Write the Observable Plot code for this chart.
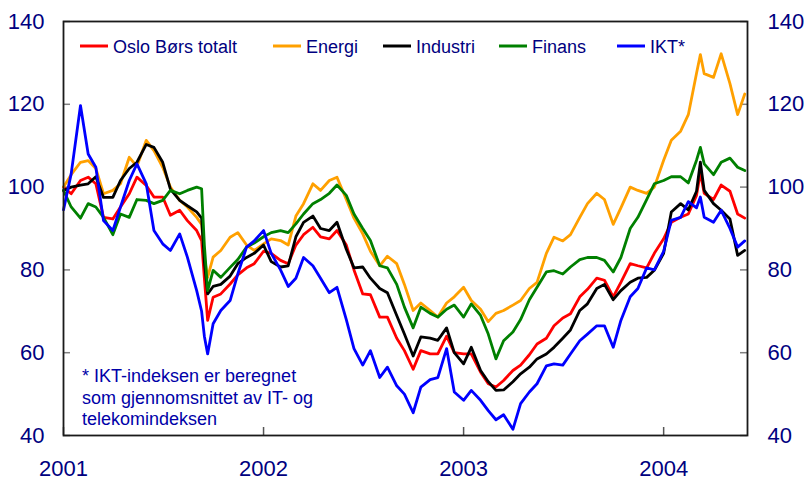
<!DOCTYPE html>
<html><head><meta charset="utf-8">
<script src="https://cdn.jsdelivr.net/npm/d3@7"></script>
<script src="https://cdn.jsdelivr.net/npm/@observablehq/plot@0.6"></script>
<style>body{margin:0;background:#fff;}</style>
</head><body><div id="chart"></div>
<script>
const dates = ["2001-01-01","2001-01-15","2001-02-01","2001-02-15","2001-03-01","2001-03-15","2001-04-01","2001-04-15","2001-05-01","2001-05-15","2001-06-01","2001-06-15","2001-07-01","2001-07-15","2001-08-01","2001-08-15","2001-09-01","2001-09-10","2001-09-15","2001-09-21","2001-10-01","2001-10-15","2001-11-01","2001-11-15","2001-12-01","2001-12-15",
"2002-01-01","2002-01-15","2002-02-01","2002-02-15","2002-03-01","2002-03-15","2002-04-01","2002-04-15","2002-05-01","2002-05-15","2002-06-01","2002-06-15","2002-07-01","2002-07-15","2002-08-01","2002-08-15","2002-09-01","2002-09-15","2002-10-01","2002-10-15","2002-11-01","2002-11-15","2002-12-01","2002-12-15",
"2003-01-01","2003-01-15","2003-02-01","2003-02-15","2003-03-01","2003-03-15","2003-04-01","2003-04-15","2003-05-01","2003-05-15","2003-06-01","2003-06-15","2003-07-01","2003-07-15","2003-08-01","2003-08-15","2003-09-01","2003-09-15","2003-10-01","2003-10-15","2003-11-01","2003-11-15","2003-12-01","2003-12-15",
"2004-01-01","2004-01-15","2004-02-01","2004-02-15","2004-03-01","2004-03-08","2004-03-15","2004-04-01","2004-04-15","2004-05-01","2004-05-15","2004-05-28"];

const osloBors = [100,98.4,101.6,102.4,100.8,92.7,92.3,95.2,98.4,102.4,100.4,97.6,97.6,93.2,94.4,91.9,89.5,87.1,78,67.8,73.4,74.2,76.6,78.8,80.5,81.5,
84.5,84,82.3,81.5,86,88.5,90.3,88,87.5,89.5,86,80,74.2,74,68.6,68.6,63.5,60.5,56,60.5,59.7,59.7,64,60,
59.7,59.7,55.3,52.5,51.7,53.3,55.7,57,59.5,62.1,63.5,66.5,68.4,69.4,73.5,75.3,78,77.5,73.5,77,81.5,81,80.5,84,
87.5,91.5,92.7,93.5,98,103.5,98.5,97,100.5,99,93.5,92.5];

const energi = [100,103,106,106.4,104.5,98.4,99.2,100.8,107.2,105,111.3,108.8,104.8,100,96.8,95.2,92.7,91,83,78.2,83.1,84.7,87.9,89,86,84.7,
86.3,87.5,87.1,86,93,96,100.8,99.2,101.6,102.4,97,92.5,88.7,84.5,81,83.3,81.5,76.5,70.2,72,70.2,68.6,72,73.5,
75.8,72.6,70.5,67.5,69.5,70.2,71.5,72.6,75.5,77,84,87.9,87,88.5,92.7,96,98.5,97,91,95,100,99.2,98.5,100,
106.5,111.3,113.5,117.5,127.5,132,127.4,126.5,132.2,125,117.5,122.5];

const industri = [99.2,100,100.5,100.8,102.5,97.5,97.5,101.6,104.5,106,110.3,109.6,106,99.5,96.8,95.5,94,92.5,82,74.2,76,76.5,78.5,81.5,83,84,
86,82,80.7,81,88,91.5,93,90,89.5,91.5,85,80.5,80.7,78,75.5,74.5,69,64.5,59.2,63.8,63.5,63,66,60,
57.3,61.3,55.7,53,50.9,51,53,54.9,56.5,58.5,59.7,61.3,63.5,65.5,70.2,71.8,75.5,76.5,72.8,75,77,78,78.2,79.9,
84,94,96,94.5,99,106,99.2,96,94.4,92.3,83.5,84.7];

const finans = [99.2,95.2,92.5,96,95.2,92.7,88.5,93.5,92.7,97,96.8,96,96.8,99.2,98.4,99.2,100,99.6,86,75,79.9,78.2,80.6,82.5,85.5,86.5,
88,89,89.5,89,91.1,93.5,96,97,98.5,100.5,98,93.5,90,87.1,81,80.5,76.5,71,66,71,69.5,68.6,70.5,71.5,
68.6,71.8,69,64.5,58.5,62.9,65,68,72.8,75.8,79.5,79.8,79,80.7,82.5,83,83,82.3,79.5,83,90,92.7,97,100.8,
101.6,102.5,102.5,101,106.5,109.6,105.6,103,106,107,104.8,104];

const ikt = [94.5,103.2,119.7,108,104.8,91.9,89.5,95.2,101.6,105.6,100.8,89.5,86.3,84.7,88.7,83.1,75,70,64,59.7,67,70.2,72.6,79,85.5,87,
89.5,84,80,76,78,83,81,78,74.5,75.8,68,61,57,60.5,54,56.5,52,50,45.5,51.7,53.5,54,61,50.5,
48.5,50.9,48.5,46,43.8,45,41.5,47.7,50.5,52.5,56.8,57.3,57,59.7,62.9,64.5,66.5,66.5,61.3,67.8,73.5,75.5,80.5,80,
84.5,92,92.7,96.5,95,97.6,92.7,91.5,94.4,90,85.5,87];

const seriesNames = ["Oslo Børs totalt","Energi","Industri","Finans","IKT*"];
const seriesColors = ["#ff0000","#ffa000","#000000","#008000","#0000ff"];
const yTicks = [40,60,80,100,120,140];
const xTickLabels = ["2001","2002","2003","2004"];
const footnote = ["* IKT-indeksen er beregnet","som gjennomsnittet av IT- og","telekomindeksen"];

const seriesValues = [osloBors, energi, industri, finans, ikt];
const parse = d3.utcParse("%Y-%m-%d");
const rows = seriesNames.flatMap((name, i) => dates.map((d, j) => ({date: parse(d), value: seriesValues[i][j], series: name})));
const xTicks = xTickLabels.map(y => parse(y + "-01-01"));

const W = 806, H = 480, mL = 63, mR = 59, mT = 21, mB = 45;
const FONT = "'Liberation Sans', Arial, sans-serif";
const NAVY = "#000080";

const plot = Plot.plot({
  width: W, height: H, marginLeft: mL, marginRight: mR, marginTop: mT, marginBottom: mB,
  style: {fontFamily: FONT, fontSize: "22px", color: NAVY, background: "#fff", overflow: "visible"},
  x: {type: "utc", domain: [parse("2001-01-01"), parse("2004-06-02")], label: null},
  y: {domain: [40, 140], label: null},
  color: {domain: seriesNames, range: seriesColors},
  marks: [
    Plot.tickY(yTicks, {stroke: "#808080", strokeWidth: 1.5, insetRight: W - mL - mR - 7}),
    Plot.tickY(yTicks, {stroke: "#808080", strokeWidth: 1.5, insetLeft: W - mL - mR - 7}),
    Plot.tickX(xTicks, {stroke: "#555", strokeWidth: 1.5, insetTop: H - mT - mB - 8}),
    Plot.line(rows, {x: "date", y: "value", z: "series", stroke: "series", strokeWidth: 2.8, strokeLinejoin: "round", strokeLinecap: "round"}),
    Plot.frame({stroke: "#1a1a1a", strokeWidth: 1.8}),
    Plot.axisY({ticks: yTicks, anchor: "left", tickSize: 0, tickPadding: 19, fill: NAVY, label: null}),
    Plot.axisY({ticks: yTicks, anchor: "right", tickSize: 0, tickPadding: 20, fill: NAVY, label: null}),
    Plot.axisX({ticks: xTicks, anchor: "bottom", tickSize: 0, tickPadding: 25, tickFormat: d3.utcFormat("%Y"), fill: NAVY, label: null})
  ]
});

document.getElementById("chart").appendChild(plot);

// Legend inside the plot area
const svg = d3.select(plot);
const legendX = [80, 273, 383, 499, 617];
const leg = svg.append("g").attr("font-family", FONT).attr("font-size", 18).attr("fill", NAVY).attr("text-anchor", "start");
seriesNames.forEach((name, i) => {
  const x0 = legendX[i];
  leg.append("line").attr("x1", x0).attr("x2", x0 + 28).attr("y1", 46).attr("y2", 46)
    .attr("stroke", seriesColors[i]).attr("stroke-width", 3);
  leg.append("text").attr("x", x0 + 33).attr("y", 53).attr("text-anchor", "start").text(name);
});

// Footnote
const fn = svg.append("g").attr("font-family", FONT).attr("font-size", 18).attr("fill", "#0000a8").attr("text-anchor", "start");
footnote.forEach((line, i) => {
  fn.append("text").attr("x", 82).attr("y", 382 + i * 21.5).attr("text-anchor", "start").text(line);
});
</script>
</body></html>
